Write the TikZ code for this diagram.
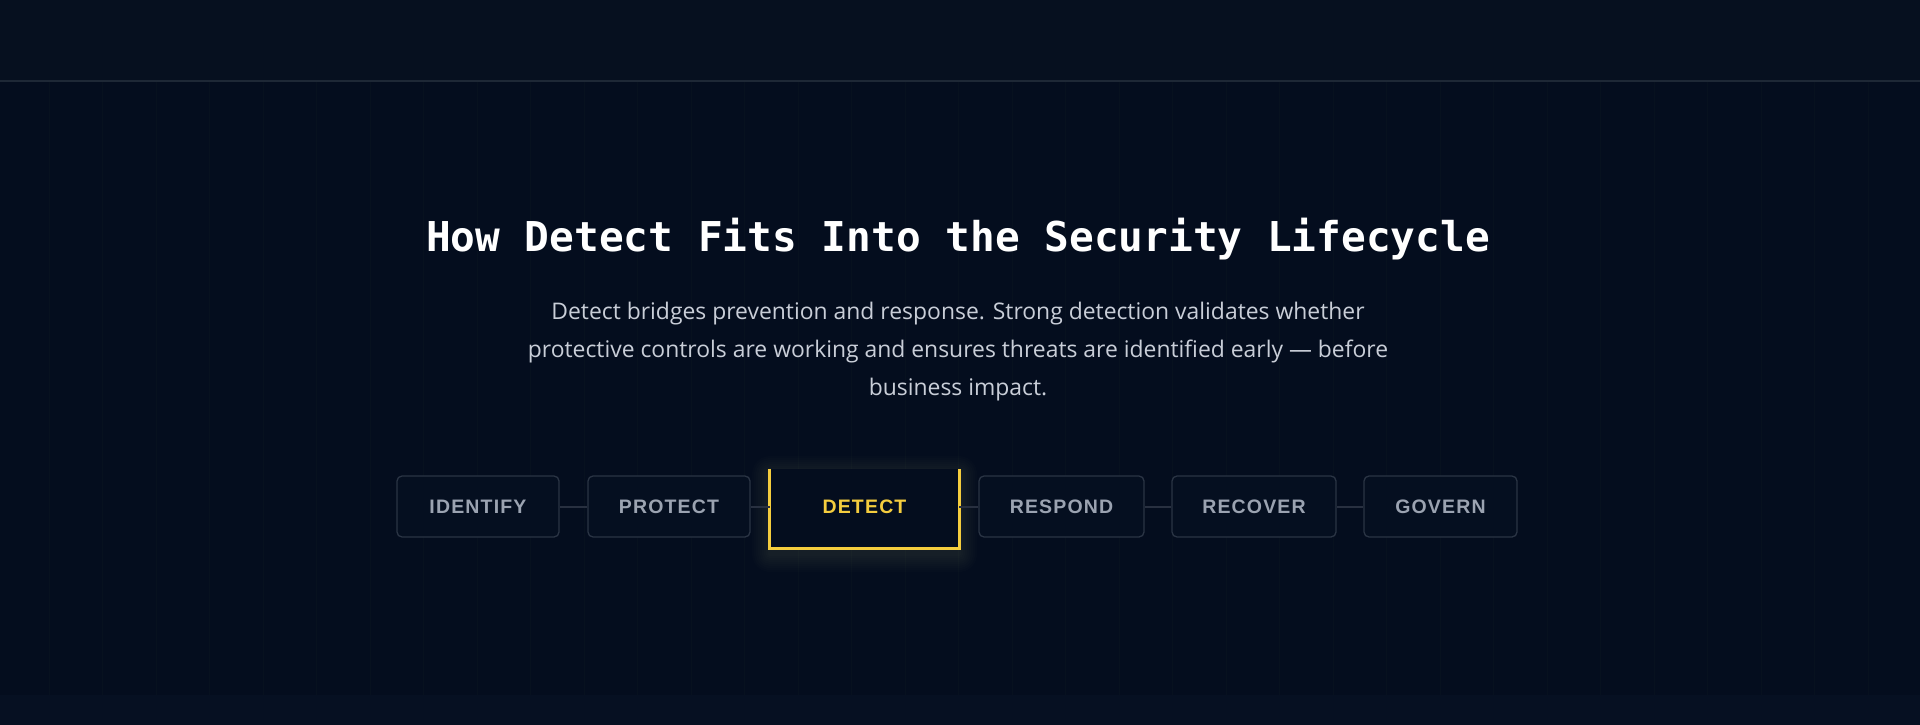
\documentclass[tikz,border=0pt]{standalone}
\usepackage{fontspec}
\setmainfont{Open Sans}
\newfontfamily\headfont{DejaVu Sans Mono}
\newfontfamily\stagefont{Liberation Sans}[LetterSpace=6]

\definecolor{pagebg}{HTML}{040D1E}
\definecolor{topbg}{HTML}{06101F}
\definecolor{footbg}{HTML}{061022}
\definecolor{ruleline}{HTML}{1E2836}
\definecolor{gridcol}{HTML}{07111F}
\definecolor{stagefill}{HTML}{050F20}
\definecolor{stageline}{HTML}{2A3444}
\definecolor{stagetext}{HTML}{9BA3B1}
\definecolor{linkcol}{HTML}{283040}
\definecolor{detectyellow}{HTML}{F5CD3E}
\definecolor{subtext}{HTML}{C9CED8}

\begin{document}
\begin{tikzpicture}[x=1pt, y=-1pt,
    stage/.style={draw=stageline, line width=1.3pt, rounded corners=5pt, fill=stagefill,
        minimum height=61pt, inner sep=0pt, text=stagetext,
        font=\stagefont\bfseries\fontsize{19.5}{19.5}\selectfont},
    activestage/.style={fill=pagebg, minimum height=79pt, minimum width=189pt, inner sep=0pt,
        text depth=3pt, text=detectyellow, font=\stagefont\bfseries\fontsize{19.5}{19.5}\selectfont},
    link/.style={draw=linkcol, line width=2pt},
    sub/.style={anchor=base, text=subtext, inner sep=0pt, font=\fontsize{22.9}{26}\selectfont}]

    % page
    \useasboundingbox (0,0) rectangle (1920,725);
    \fill[pagebg] (0,0) rectangle (1920,725);
    \fill[topbg] (0,0) rectangle (1920,81);
    \fill[footbg] (0,695) rectangle (1920,725);
    \foreach \i in {0,...,35} {
        \draw[gridcol, line width=1pt] ({49+53.5*\i},82) -- ({49+53.5*\i},695);
    }
    \draw[ruleline, line width=1.5pt] (0,81) -- (1920,81);

    % heading
    \node[anchor=base, text=white, inner sep=0pt, font=\headfont\bfseries\fontsize{41.1}{44}\selectfont]
        (title) at (958, 251) {How Detect Fits Into the Security Lifecycle};

    \node[sub] (sub1) at (958, 319.3) {Detect bridges prevention and response. Strong detection validates whether};
    \node[sub] (sub2) at (958, 357) {protective controls are working and ensures threats are identified early — before};
    \node[sub] (sub3) at (958, 395) {business impact.};

    % glow behind the active stage
    \foreach \g in {2,4,...,18} {
        \fill[detectyellow!60!white, opacity=0.011, rounded corners=\g pt] (770-\g, 474-\g) rectangle (959+\g, 554+\g);
    }

    % stages
    \foreach \name/\cx/\w/\lbl in {identify/478/162/IDENTIFY, protect/669/162/PROTECT,
        respond/1061.5/165/RESPOND, recover/1254/164/RECOVER, govern/1440.5/153/GOVERN} {
        \node[stage, minimum width=\w pt] (\name) at (\cx, 506.5) {\lbl};
    }
    \node[activestage] (detect) at (864.5, 508.5) {DETECT};
    \draw[detectyellow, line width=3pt] (detect.north west) -- (detect.south west)
        -- (detect.south east) -- (detect.north east);

    \foreach \a/\b in {identify/protect, protect/detect, detect/respond, respond/recover, recover/govern} {
        \draw[link] (\a.east |- 0,507) -- (\b.west |- 0,507);
    }
\end{tikzpicture}
\end{document}
